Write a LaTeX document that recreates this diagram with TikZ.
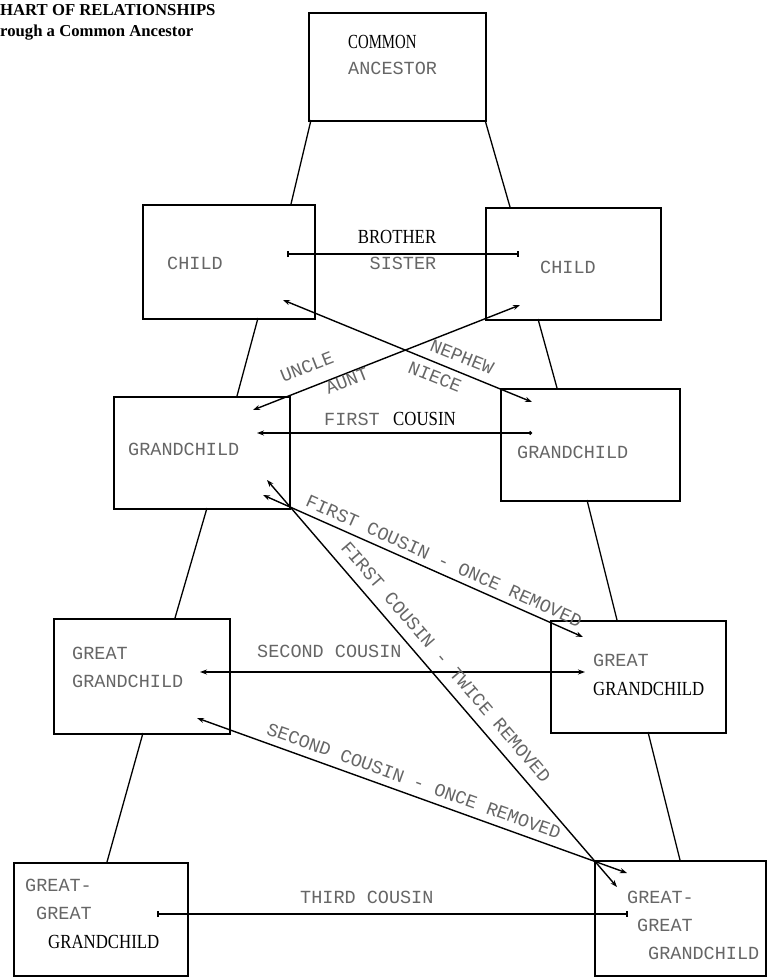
\documentclass[tikz,border=0pt]{standalone}
\usepackage{fontspec}
\setmainfont{Liberation Serif}
\newfontfamily\twfont{Liberation Mono}
\newfontfamily\condfont[FakeStretch=0.84]{Liberation Serif}
\newfontfamily\condfontb[FakeStretch=0.74]{Liberation Serif}
\usetikzlibrary{arrows.meta}
\definecolor{twgray}{gray}{0.40}
\begin{document}
\begin{tikzpicture}[x=1pt,y=-1pt,
  box/.style={draw, line width=1.8pt, rectangle, inner sep=0pt, anchor=north west},
  tw/.style={font=\twfont\fontsize{18.5}{20}\selectfont, text=twgray, inner sep=0pt},
  sf/.style={font=\condfont\fontsize{20}{22}\selectfont, text=black, inner sep=0pt},
  sfb/.style={font=\condfontb\fontsize{20}{22}\selectfont, text=black, inner sep=0pt},
  ttl/.style={font=\bfseries\fontsize{16.7}{18}\selectfont, inner sep=0pt, anchor=base west},
  trunk/.style={line width=1.3pt},
  rel/.style={line width=1.4pt, {Stealth[length=7pt,width=5pt]}-{Stealth[length=7pt,width=5pt]}},
  barrel/.style={line width=1.6pt, {Bar[width=6pt]}-{Bar[width=6pt]}},
  dotrel/.style={line width=1.4pt, {Stealth[length=7pt,width=5pt]}-{Circle[length=3.5pt]}}
]
\useasboundingbox (0,0) rectangle (767,977);

% title
\node[ttl] (t1) at (0,15) {HART OF RELATIONSHIPS};
\node[ttl] (t2) at (0,36) {rough a Common Ancestor};

% boxes
\node[box, minimum width=177pt, minimum height=108pt] (ca) at (308,12) {};
\node[box, minimum width=172pt, minimum height=114pt] (lc) at (142,204) {};
\node[box, minimum width=175pt, minimum height=112pt] (rc) at (485,207) {};
\node[box, minimum width=176pt, minimum height=112pt] (lg) at (113,396) {};
\node[box, minimum width=179pt, minimum height=112pt] (rg) at (500,388) {};
\node[box, minimum width=176pt, minimum height=115pt] (lgg) at (53,618) {};
\node[box, minimum width=175pt, minimum height=112pt] (rgg) at (550,620) {};
\node[box, minimum width=174pt, minimum height=113pt] (lggg) at (13,862) {};
\node[box, minimum width=171pt, minimum height=115pt] (rggg) at (594,860) {};

% box texts
\node[sfb, anchor=west] (caA) at (348,42) {COMMON};
\node[tw, anchor=west] (caB) at (348,68) {ANCESTOR};
\node[tw, anchor=west] (lcT) at (167,263) {CHILD};
\node[tw, anchor=west] (rcT) at (540,267) {CHILD};
\node[tw, anchor=west] (lgT) at (128,449) {GRANDCHILD};
\node[tw, anchor=west] (rgT) at (517,452) {GRANDCHILD};
\node[tw, anchor=west] (lggA) at (72,653) {GREAT};
\node[tw, anchor=west] (lggB) at (72,681) {GRANDCHILD};
\node[tw, anchor=west] (rggA) at (593,660) {GREAT};
\node[sf, anchor=west] (rggB) at (593,689) {GRANDCHILD};
\node[tw, anchor=west] (lgggA) at (25,885) {GREAT-};
\node[tw, anchor=west] (lgggB) at (36,913) {GREAT};
\node[sf, anchor=west] (lgggC) at (48,942) {GRANDCHILD};
\node[tw, anchor=west] (rgggA) at (627,897) {GREAT-};
\node[tw, anchor=west] (rgggB) at (637,925) {GREAT};
\node[tw, anchor=west] (rgggC) at (648,953) {GRANDCHILD};

% trunk coordinates
\coordinate (t1a) at (311,120); \coordinate (t1b) at (291,204);
\coordinate (t2a) at (485,120); \coordinate (t2b) at (510,207);
\coordinate (t3a) at (258,318); \coordinate (t3b) at (237,396);
\coordinate (t4a) at (538,319); \coordinate (t4b) at (557,388);
\coordinate (t5a) at (207,508); \coordinate (t5b) at (175,618);
\coordinate (t6a) at (587,500); \coordinate (t6b) at (617,620);
\coordinate (t7a) at (143,733); \coordinate (t7b) at (107,862);
\coordinate (t8a) at (648,732); \coordinate (t8b) at (680,860);
\draw[trunk] (t1a) -- (t1b);
\draw[trunk] (t2a) -- (t2b);
\draw[trunk] (t3a) -- (t3b);
\draw[trunk] (t4a) -- (t4b);
\draw[trunk] (t5a) -- (t5b);
\draw[trunk] (t6a) -- (t6b);
\draw[trunk] (t7a) -- (t7b);
\draw[trunk] (t8a) -- (t8b);

% relationship coordinates
\coordinate (bs1) at (287,254); \coordinate (bs2) at (519,254);
\coordinate (np1) at (283,300); \coordinate (np2) at (532,402);
\coordinate (ua1) at (520,305); \coordinate (ua2) at (253,410);
\coordinate (fc1) at (257,433); \coordinate (fc2) at (532,433);
\coordinate (fco1) at (263,495); \coordinate (fco2) at (583,637);
\coordinate (fct1) at (267,480); \coordinate (fct2) at (617,887);
\coordinate (sc1) at (200,672); \coordinate (sc2) at (585,672);
\coordinate (sco1) at (197,718); \coordinate (sco2) at (627,873);
\coordinate (tc1) at (157,914); \coordinate (tc2) at (628,914);

\draw[barrel] (bs1) -- (bs2);
\draw[rel] (np1) -- (np2);
\draw[rel] (ua1) -- (ua2);
\draw[dotrel] (fc1) -- (fc2);
\draw[rel] (fco1) -- (fco2);
\draw[rel] (fct1) -- (fct2);
\draw[rel] (sc1) -- (sc2);
\draw[rel] (sco1) -- (sco2);
\draw[barrel] (tc1) -- (tc2);

% relationship labels
\node[sf] (lbro) at (397,237) {BROTHER};
\node[tw] (lsis) at (403,263) {SISTER};
\node[tw, rotate=21.5] (lunc) at (307,367) {UNCLE};
\node[tw, rotate=21.5] (laun) at (347,381) {AUNT};
\node[tw, rotate=-22] (lnep) at (462,357) {NEPHEW};
\node[tw, rotate=-22] (lnie) at (435,377) {NIECE};
\node[tw, anchor=west] (lfcA) at (324,419) {FIRST};
\node[sf, anchor=west] (lfcB) at (393,419) {COUSIN};
\node[tw, rotate=-24] (lfco) at (444,561) {FIRST COUSIN - ONCE REMOVED};
\node[tw, rotate=-49.3] (lfct) at (446,662) {FIRST COUSIN - TWICE REMOVED};
\node[tw, anchor=west] (lsc) at (257,651) {SECOND COUSIN};
\node[tw, rotate=-19.8] (lsco) at (414,781) {SECOND COUSIN - ONCE REMOVED};
\node[tw, anchor=west] (ltc) at (300,897) {THIRD COUSIN};
\end{tikzpicture}
\end{document}
